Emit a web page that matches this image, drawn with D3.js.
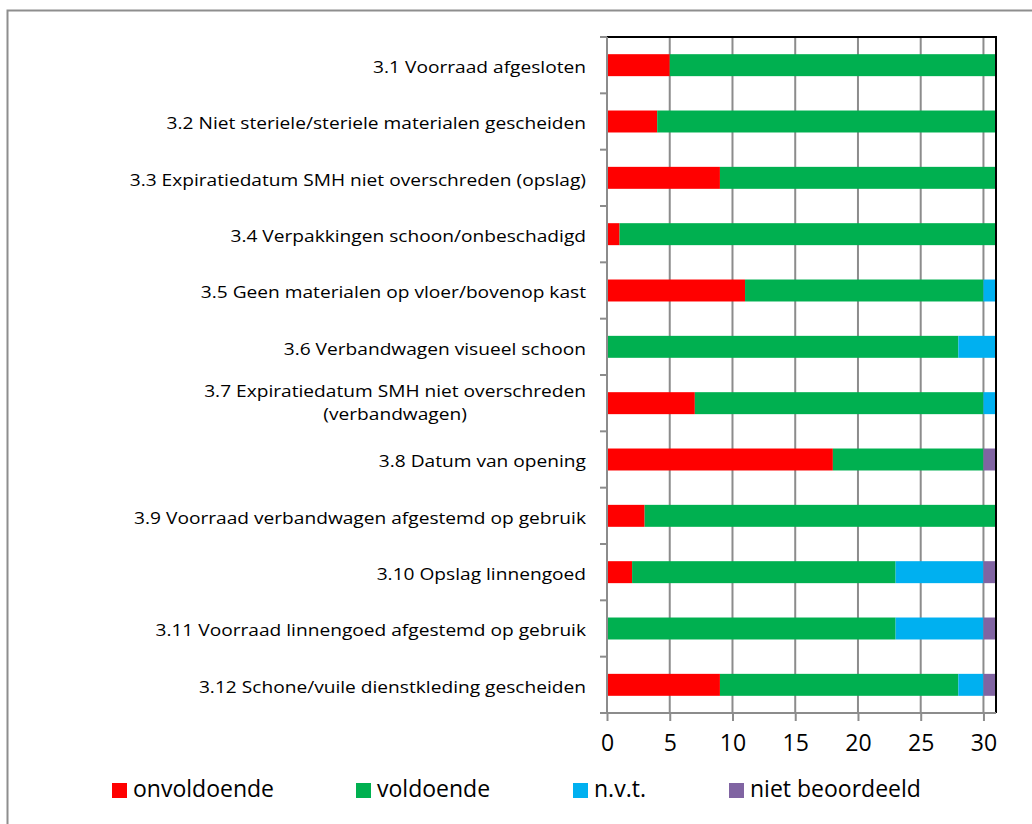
<!DOCTYPE html>
<html>
<head>
<meta charset="utf-8">
<script src="https://cdn.jsdelivr.net/npm/d3@7"></script>
<style>
  html, body { margin: 0; padding: 0; background: #fff; }
  svg { display: block; }
  text { font-family: "Open Sans", "DejaVu Sans", sans-serif; fill: #000; }
</style>
</head>
<body>
<svg id="chart" width="1032" height="824"></svg>
<script>
// ---- Data ----
const categories = [
  "3.1 Voorraad afgesloten",
  "3.2 Niet steriele/steriele materialen gescheiden",
  "3.3 Expiratiedatum SMH niet overschreden (opslag)",
  "3.4 Verpakkingen schoon/onbeschadigd",
  "3.5 Geen materialen op vloer/bovenop kast",
  "3.6 Verbandwagen visueel schoon",
  "3.7 Expiratiedatum SMH niet overschreden (verbandwagen)",
  "3.8 Datum van opening",
  "3.9 Voorraad verbandwagen afgestemd op gebruik",
  "3.10 Opslag linnengoed",
  "3.11 Voorraad linnengoed afgestemd op gebruik",
  "3.12 Schone/vuile dienstkleding gescheiden"
];
const onvoldoende    = [5, 4, 9, 1, 11, 0, 7, 18, 3, 2, 0, 9];
const voldoende      = [26, 27, 22, 30, 19, 28, 23, 12, 28, 21, 23, 19];
const nvt            = [0, 0, 0, 0, 1, 3, 1, 0, 0, 7, 7, 2];
const nietBeoordeeld = [0, 0, 0, 0, 0, 0, 0, 1, 0, 1, 1, 1];
const seriesNames  = ["onvoldoende", "voldoende", "n.v.t.", "niet beoordeeld"];
const seriesColors = ["#FF0000", "#00B050", "#00B0F0", "#8064A2"];
const xTicks = [0, 5, 10, 15, 20, 25, 30];
const xMax = 31;

// ---- Layout ----
const plot = { left: 607, right: 996, top: 37, bottom: 713 };
const labelRight = 586;
const legendX = [112, 356, 573, 729];
const legendY = 783;
const axisGrey = "#8c8c8c";
const labelSize = 16.8;
const labelStretch = 1.14;

const svg = d3.select("#chart");

// outer chart frame (extends beyond the picture on right/bottom)
svg.append("rect")
  .attr("x", 7.5).attr("y", 10.5)
  .attr("width", 1200).attr("height", 1000)
  .attr("fill", "#fff")
  .attr("stroke", "#8e8e8e").attr("stroke-width", 2);

const x = d3.scaleLinear().domain([0, xMax]).range([plot.left, plot.right]);
const y = d3.scaleBand().domain(categories)
  .range([plot.top, plot.bottom])
  .paddingInner(0.61).paddingOuter(0.305);

// gridlines
svg.append("g").selectAll("line")
  .data(xTicks.filter(t => t > 0))
  .join("line")
  .attr("x1", d => x(d)).attr("x2", d => x(d))
  .attr("y1", plot.top).attr("y2", plot.bottom)
  .attr("stroke", axisGrey).attr("stroke-width", 2);

// stacked bars
const rows = categories.map((c, i) => ({
  cat: c,
  "onvoldoende": onvoldoende[i],
  "voldoende": voldoende[i],
  "n.v.t.": nvt[i],
  "niet beoordeeld": nietBeoordeeld[i]
}));
const stacked = d3.stack().keys(seriesNames)(rows);

svg.append("g").selectAll("g")
  .data(stacked)
  .join("g")
  .attr("fill", (d, i) => seriesColors[i])
  .selectAll("rect")
  .data(d => d.filter(s => s[1] - s[0] > 0))
  .join("rect")
  .attr("x", d => x(d[0]))
  .attr("width", d => x(d[1]) - x(d[0]))
  .attr("y", d => y(d.data.cat))
  .attr("height", y.bandwidth());

// plot frame top/right (black)
svg.append("path")
  .attr("d", `M${plot.left},${plot.top}H${plot.right}V${plot.bottom}`)
  .attr("fill", "none").attr("stroke", "#000").attr("stroke-width", 2);

// left axis line + ticks at band boundaries
const step = y.step();
const boundaries = d3.range(categories.length + 1).map(i => plot.top + i * step);
svg.append("line")
  .attr("x1", plot.left).attr("x2", plot.left)
  .attr("y1", plot.top).attr("y2", plot.bottom)
  .attr("stroke", axisGrey).attr("stroke-width", 2);
svg.append("g").selectAll("line")
  .data(boundaries).join("line")
  .attr("x1", plot.left - 7).attr("x2", plot.left)
  .attr("y1", d => d).attr("y2", d => d)
  .attr("stroke", axisGrey).attr("stroke-width", 2);

// bottom axis
const xAxis = d3.axisBottom(x).tickValues(xTicks).tickSize(8).tickPadding(14).tickFormat(d3.format("d"));
const gx = svg.append("g").attr("transform", `translate(0,${plot.bottom})`).call(xAxis);
gx.select(".domain").remove();
gx.append("line")
  .attr("x1", plot.left - 7).attr("x2", plot.right)
  .attr("y1", 0).attr("y2", 0)
  .attr("stroke", axisGrey).attr("stroke-width", 2);
gx.selectAll(".tick line").attr("stroke", axisGrey).attr("stroke-width", 2);
gx.selectAll(".tick text")
  .attr("font-family", "'Open Sans', sans-serif")
  .attr("font-size", 23).attr("fill", "#000");

// category labels
function wrapLabel(s) {
  if (s.length <= 50) return [s];
  const words = s.split(" ");
  const lines = [];
  let cur = "";
  words.forEach(w => {
    const t = cur ? cur + " " + w : w;
    if (t.length > 41 && cur) { lines.push(cur); cur = w; } else cur = t;
  });
  if (cur) lines.push(cur);
  return lines;
}
const labelG = svg.append("g");
categories.forEach(c => {
  const lines = wrapLabel(c);
  const cy = y(c) + y.bandwidth() / 2;
  const base0 = cy + 8 - (lines.length - 1) * 14.5;
  const lineH = 23.3;
  const g = labelG.append("g").attr("transform", `translate(${labelRight},0) scale(${labelStretch},1)`);
  if (lines.length === 1) {
    g.append("text").attr("x", 0).attr("y", base0)
      .attr("text-anchor", "end").attr("font-size", labelSize).text(lines[0]);
  } else {
    // wrapped labels: centred under each other, block right-aligned
    let maxW = 0;
    lines.forEach(l => {
      const t = g.append("text").attr("font-size", labelSize).text(l);
      maxW = Math.max(maxW, t.node().getComputedTextLength());
      t.remove();
    });
    lines.forEach((l, i) => {
      g.append("text").attr("x", -maxW / 2).attr("y", base0 + i * lineH)
        .attr("text-anchor", "middle").attr("font-size", labelSize).text(l);
    });
  }
});

// legend
const leg = svg.append("g");
seriesNames.forEach((n, i) => {
  leg.append("rect")
    .attr("x", legendX[i]).attr("y", legendY)
    .attr("width", 15).attr("height", 15)
    .attr("fill", seriesColors[i]);
  leg.append("text")
    .attr("x", legendX[i] + 21).attr("y", legendY + 14)
    .attr("font-size", 23).text(n);
});
</script>
</body>
</html>
